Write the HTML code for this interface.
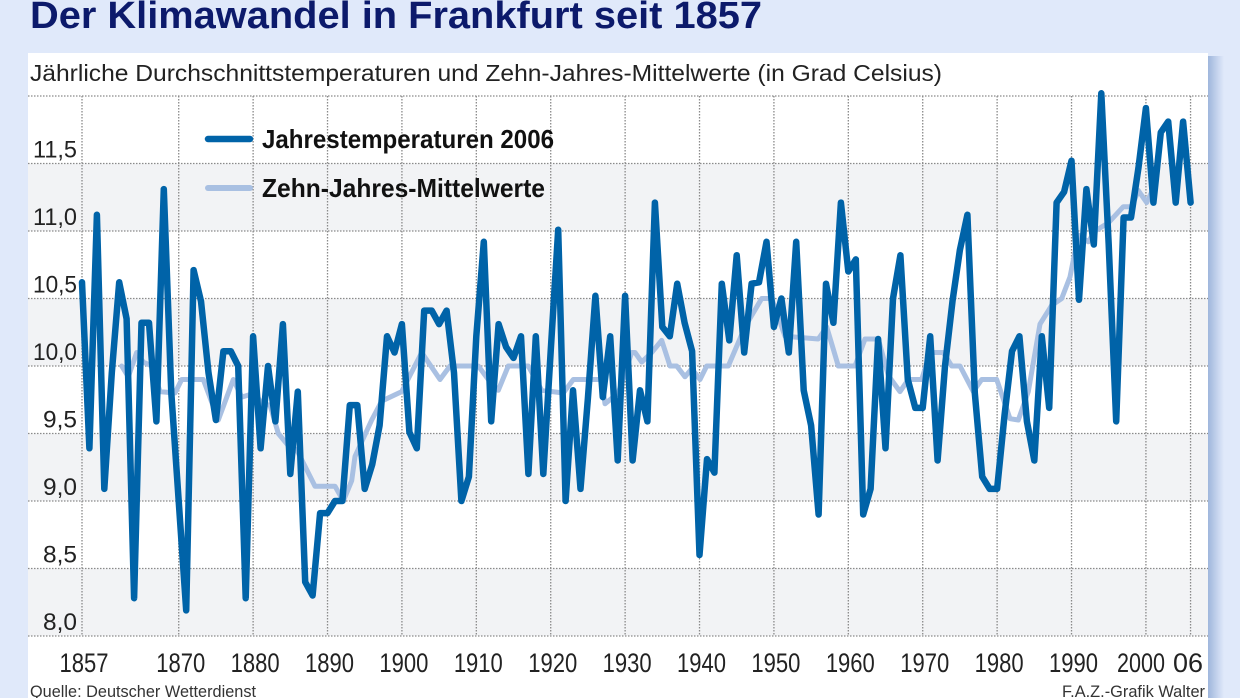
<!DOCTYPE html>
<html><head><meta charset="utf-8"><style>
html,body{margin:0;padding:0;background:#e0e9fa;}
svg{display:block;}
text{font-family:"Liberation Sans",sans-serif;}
</style></head><body>
<svg id="s" width="1240" height="698" viewBox="0 0 1240 698" xmlns="http://www.w3.org/2000/svg">
<defs><linearGradient id="sh" x1="0" x2="1"><stop offset="0" stop-color="#9fb6dc"/><stop offset="1" stop-color="#e0e9fa"/></linearGradient></defs>
<rect x="0" y="0" width="1240" height="698" fill="#e0e9fa"/>
<rect x="1208" y="56" width="16" height="642" fill="url(#sh)"/>
<rect x="28" y="53" width="1180" height="645" fill="#ffffff"/>
<g fill="#f2f3f5">
<rect x="28" y="163.5" width="1180" height="67.5"/>
<rect x="28" y="298.5" width="1180" height="67.5"/>
<rect x="28" y="433.5" width="1180" height="67.5"/>
<rect x="28" y="568.5" width="1180" height="67.5"/>
</g>
<g id="grid" stroke="#8a8a8a" stroke-width="1.3" stroke-dasharray="1.5 1.5" fill="none"></g>
<text x="30" y="28" font-size="38" font-weight="bold" fill="#0c1a6b" textLength="732" lengthAdjust="spacingAndGlyphs">Der Klimawandel in Frankfurt seit 1857</text>
<text x="30" y="81" font-size="23" fill="#222" textLength="912" lengthAdjust="spacingAndGlyphs">Jährliche Durchschnittstemperaturen und Zehn-Jahres-Mittelwerte (in Grad Celsius)</text>
<g id="ylab" font-size="24" fill="#222" text-anchor="end"></g>
<g id="xlab" font-size="27" fill="#222" text-anchor="middle"></g>
<polyline id="mean" fill="none" stroke="#a9c0e2" stroke-width="5" stroke-linejoin="round" stroke-linecap="round"/>
<polyline id="ann" fill="none" stroke="#0063a8" stroke-width="6.5" stroke-linejoin="round" stroke-linecap="round"/>
<line x1="208" y1="139" x2="250" y2="139" stroke="#0063a8" stroke-width="6.5" stroke-linecap="round"/>
<line x1="208" y1="188" x2="250" y2="188" stroke="#a9c0e2" stroke-width="6" stroke-linecap="round"/>
<text x="262" y="148" font-size="26" font-weight="bold" fill="#111" textLength="292" lengthAdjust="spacingAndGlyphs">Jahrestemperaturen 2006</text>
<text x="262" y="197" font-size="26" font-weight="bold" fill="#111" textLength="283" lengthAdjust="spacingAndGlyphs">Zehn-Jahres-Mittelwerte</text>
<text x="30" y="697" font-size="17" fill="#333" textLength="226" lengthAdjust="spacingAndGlyphs">Quelle: Deutscher Wetterdienst</text>
<text x="1205" y="697" font-size="17" fill="#333" text-anchor="end" textLength="143" lengthAdjust="spacingAndGlyphs">F.A.Z.-Grafik Walter</text>
</svg>
<script>
var NS="http://www.w3.org/2000/svg";
function X(yr){return 82+(yr-1857)*7.44;}
function Y(v){return 96+(12-v)*135;}
var g=document.getElementById('grid');
function ln(a,b,c,d){var l=document.createElementNS(NS,'line');l.setAttribute('x1',a);l.setAttribute('y1',b);l.setAttribute('x2',c);l.setAttribute('y2',d);g.appendChild(l);}
for(var v=8;v<=12.001;v+=0.5){ln(28,Y(v),1208,Y(v));}
var yrs=[1857,1870,1880,1890,1900,1910,1920,1930,1940,1950,1960,1970,1980,1990,2000,2006];
yrs.forEach(function(y){ln(X(y),Y(12),X(y),Y(8));});
var yl=document.getElementById('ylab');
["8,0","8,5","9,0","9,5","10,0","10,5","11,0","11,5"].forEach(function(t,i){
 var e=document.createElementNS(NS,'text');e.setAttribute('x',77);e.setAttribute('y',Y(8+i*0.5)-6);
 e.setAttribute('textLength',t.length>3?44:34);e.setAttribute('lengthAdjust','spacingAndGlyphs');e.textContent=t;yl.appendChild(e);});
var xl=document.getElementById('xlab');
function xt(t,x,w){var e=document.createElementNS(NS,'text');e.setAttribute('x',x);e.setAttribute('y',672);e.setAttribute('textLength',w);e.setAttribute('lengthAdjust','spacingAndGlyphs');e.textContent=t;xl.appendChild(e);}
[1857,1870,1880,1890,1900,1910,1920,1930,1940,1950,1960,1970,1980,1990].forEach(function(y){xt(String(y),X(y)+2,49);});
xt("2000",1141,48);xt("06",1188,30);
var d=[10.62,9.39,11.12,9.09,9.95,10.62,10.35,8.28,10.32,10.32,9.59,11.31,9.8,9.0,8.19,10.71,10.48,9.95,9.6,10.11,10.11,10.0,8.28,10.22,9.39,10.0,9.59,10.31,9.2,9.81,8.4,8.3,8.91,8.91,9.0,9.0,9.71,9.71,9.09,9.27,9.56,10.22,10.1,10.31,9.51,9.39,10.41,10.41,10.31,10.41,9.95,9.0,9.18,10.22,10.92,9.59,10.31,10.14,10.06,10.22,9.2,10.22,9.2,10.11,11.01,9.0,9.82,9.09,9.76,10.52,9.77,10.22,9.3,10.52,9.3,9.82,9.59,11.21,10.29,10.22,10.61,10.32,10.11,8.6,9.31,9.21,10.61,10.19,10.82,10.1,10.61,10.62,10.92,10.29,10.5,10.1,10.92,9.82,9.56,8.9,10.61,10.32,11.21,10.7,10.79,8.9,9.09,10.2,9.39,10.5,10.82,9.9,9.69,9.69,10.22,9.3,10.0,10.48,10.86,11.12,9.8,9.18,9.09,9.09,9.64,10.11,10.22,9.59,9.3,10.22,9.69,11.21,11.29,11.52,10.49,11.31,10.9,12.02,10.9,9.59,11.1,11.1,11.47,11.91,11.21,11.73,11.81,11.21,11.81,11.21];
document.getElementById('ann').setAttribute('points',d.map(function(v,i){return X(1857+i).toFixed(1)+','+Y(v).toFixed(1);}).join(' '));
var m=[[75,[[140,10.0],[160,9.92],[185,10.1],[205,10.03],[230,10.0],[255,9.81],[300,9.8],[320,9.9],[385,9.9],[430,9.6],[475,9.9],[500,9.77],[540,9.8],[560,9.72],[585,9.71],[610,9.5],[640,9.41],[665,9.38],[720,9.11],[780,9.11],[805,9.0],[830,9.15]]],
[355,[[0,9.33],[50,9.6],[80,9.74],[140,9.81],[200,10.1],[255,9.9],[285,10.0],[370,10.0],[400,9.9],[430,9.82],[460,10.0],[520,10.0],[560,9.82],[625,9.8],[655,9.9],[740,9.9],[750,9.72],[790,9.8],[830,10.1]]],
[635,[[0,10.1],[20,10.03],[50,10.1],[80,10.19],[105,10.0],[125,10.0],[150,9.92],[170,9.98],[195,9.9],[215,10.0],[280,10.0],[330,10.29],[380,10.5],[410,10.5],[450,10.22],[550,10.2],[575,10.29],[610,10.0],[660,10.0],[690,10.2],[730,10.2],[760,9.93],[795,9.81],[820,9.9]]],
[915,[[0,9.9],[20,9.9],[45,10.1],[85,10.1],[110,10.0],[135,10.0],[175,9.81],[200,9.9],[245,9.9],[285,9.61],[310,9.6],[340,9.81],[375,10.31],[410,10.45],[440,10.5],[465,10.66],[490,10.97],[520,10.92],[540,11.0],[580,11.06],[625,11.18],[650,11.18],[670,11.3],[695,11.21],[710,11.29]]]];
var pts=[];m.forEach(function(s){s[1].forEach(function(p){pts.push((p[0]/3+s[0]).toFixed(1)+','+Y(p[1]).toFixed(1));});});
document.getElementById('mean').setAttribute('points',pts.join(' '));
</script>
</body></html>
